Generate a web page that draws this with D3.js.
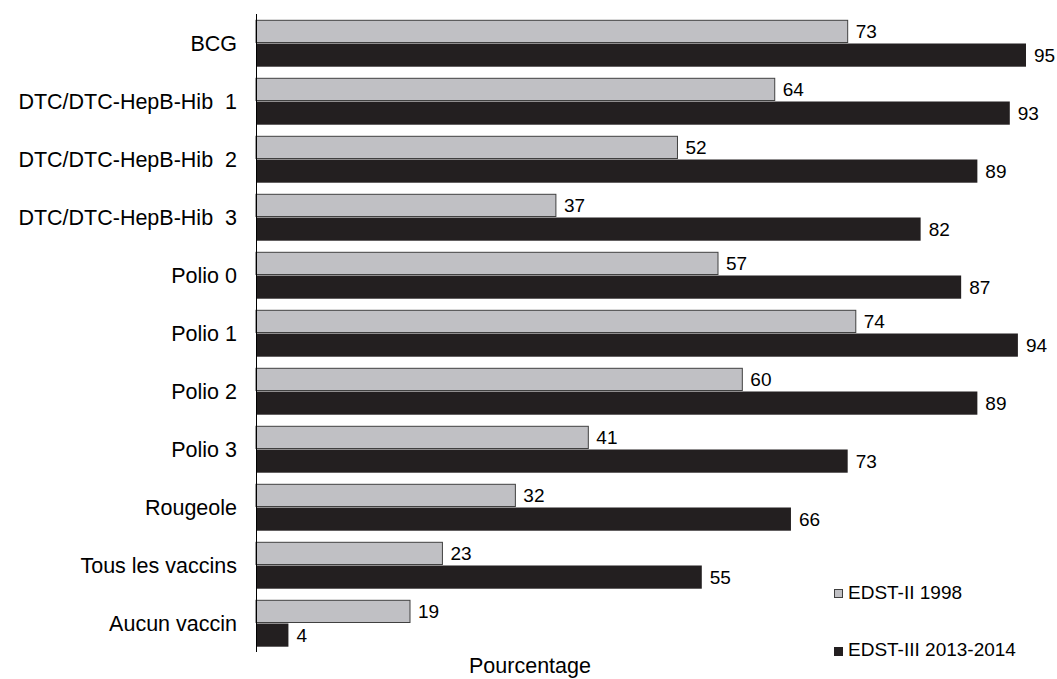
<!DOCTYPE html>
<html><head><meta charset="utf-8">
<script src="https://cdn.jsdelivr.net/npm/d3@7"></script>
<style>body{margin:0;background:#fff}text{font-family:"Liberation Sans",Arial,sans-serif;fill:#000;white-space:pre}</style>
</head><body><svg id="c" width="1057" height="679"></svg>
<script>
const categories = ["BCG","DTC/DTC-HepB-Hib  1","DTC/DTC-HepB-Hib  2","DTC/DTC-HepB-Hib  3","Polio 0","Polio 1","Polio 2","Polio 3","Rougeole","Tous les vaccins","Aucun vaccin"];
const series = ["EDST-II 1998","EDST-III 2013-2014"];
const values1998 = [73,64,52,37,57,74,60,41,32,23,19];
const values2013 = [95,93,89,82,87,94,89,73,66,55,4];
const colors = ["#c0c0c4","#231f20"];
const strokes = ["#404040","#231f20"];

const svg = d3.select("#c");
const x = d3.scaleLinear().domain([0,95]).range([256,1026]);
const y = d3.scaleBand().domain(categories).range([14,652]).paddingInner(0.2).paddingOuter(0.1);
const ys = d3.scaleBand().domain(series).range([0,y.bandwidth()]);
const data = [values1998, values2013];

categories.forEach((c,i)=>{
  series.forEach((s,j)=>{
    const v = data[j][i];
    const g = svg.append("g");
    g.append("rect").attr("x",x(0)).attr("y",y(c)+ys(s)+0.5).attr("width",x(v)-x(0)).attr("height",ys.bandwidth()-(j===0?1:0))
      .attr("fill",colors[j]).attr("stroke",j===0?strokes[j]:"none").attr("stroke-width",1);
    g.append("text").attr("x",x(v)+8).attr("y",y(c)+ys(s)+ys.bandwidth()/2+7).attr("font-size",19).text(v);
  });
  svg.append("text").attr("x",237).attr("y",y(c)+y.bandwidth()/2+8).attr("text-anchor","end").attr("font-size",21.5).text(c);
});

svg.append("line").attr("x1",256.5).attr("x2",256.5).attr("y1",14).attr("y2",652).attr("stroke","#000").attr("stroke-width",1);

svg.append("text").attr("x",530).attr("y",673).attr("text-anchor","middle").attr("font-size",21.5).text("Pourcentage");

const leg = [[589,599],[647,656]];
series.forEach((s,j)=>{
  svg.append("rect").attr("x",834.5).attr("y",leg[j][0]+0.5).attr("width",8).attr("height",8).attr("fill",colors[j]).attr("stroke",strokes[j]);
  svg.append("text").attr("x",848).attr("y",leg[j][1]).attr("font-size",19).text(s);
});
</script></body></html>
